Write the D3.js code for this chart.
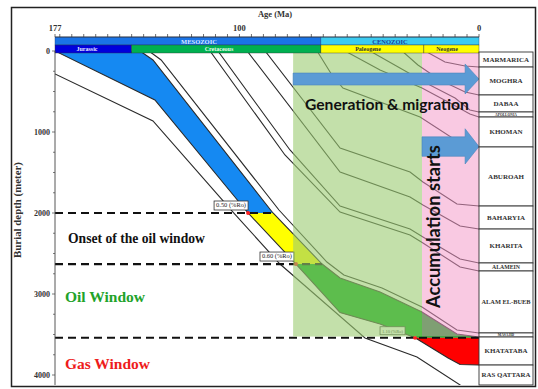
<!DOCTYPE html>
<html><head><meta charset="utf-8">
<script src="https://cdn.jsdelivr.net/npm/d3@7"></script>
<style>body{margin:0;background:#fff}svg{display:block}</style>
</head><body>
<svg id="chart" width="538" height="389"></svg>
<script>
// ---- stratigraphic column (present-day formation tops, metres) ----
const formations = ["MARMARICA","MOGHRA","DABAA","APOLLONIA","KHOMAN","ABUROAH","BAHARYIA","KHARITA","ALAMEIN","ALAM EL-BUEB","MASAJID","KHATATABA","RAS QATTARA"];
const formationTops = [0,198,543,753,815,1185,1914,2198,2617,2716,3481,3531,3877];
const columnBase = 4123;

// ---- geologic time scale (Ma) ----
const eras = ["MESOZOIC","CENOZOIC"];
const eraSpans = [[177,66],[66,0]];
const periods = ["Jurassic","Cretaceous","Paleogene","Neogene"];
const periodSpans = [[177,145],[145,66],[66,23],[23,0]];
const ageLabels = [177,100,0];
const depthLabels = [0,1000,2000,3000,4000];

// ---- burial history of each horizon: [age Ma, depth m] ----
const rasQattaraBase = [[177,284],[136.1,864],[102.7,1988],[83.1,2630],[47.6,3543],[25.9,3778],[7.9,4123],[0,4247]];
const khatatbaBase   = [[177,0],[135.3,605],[96.4,2000],[76.4,2630],[58.0,3230],[41.3,3370],[26.7,3540],[12.9,3790],[7.9,3870],[0,3877]];
const khatatbaTop    = [[141.5,0],[136.1,111],[86.0,2000],[65.5,2630],[58.0,2802],[41.3,2975],[23.8,3222],[9.2,3494],[0,3531]];
const masajidTop     = [[137.8,0],[132.7,111],[83.5,1963],[63.5,2605],[56.4,2765],[40.5,2926],[23.8,3160],[9.2,3444],[0,3481]];
const alamElBueibTop = [[112.3,0],[81.0,1284],[58.0,1988],[28.8,2272],[23.4,2370],[7.9,2667],[0,2716]];
const alameinTop     = [[109.0,0],[78.9,1222],[58.0,1914],[28.8,2198],[23.4,2296],[7.9,2568],[0,2617]];
const kharitaTop     = [[96.8,0],[58.0,1494],[28.8,1802],[23.4,1901],[7.9,2160],[0,2198]];
const baharyiaTop    = [[89.3,0],[58.0,1198],[28.8,1494],[23.4,1617],[9.2,1889],[0,1914]];
const aburoahTop     = [[67.6,0],[61.4,296],[56.8,457],[24.6,815],[7.9,1136],[0,1185]];
const khomanTop      = [[55.9,0],[41.3,235],[23.8,457],[12.1,642],[3.8,778],[0,815]];
const apolloniaTop   = [[45.5,0],[33.0,210],[20.5,420],[10.0,580],[3.8,728],[0,753]];
const dabaaTop       = [[32.1,0],[25.5,173],[16.3,358],[5.8,506],[0,543]];
const moghraTop      = [[22.5,0],[14.2,136],[5.8,185],[0,198]];

// ---- maturity thresholds (vitrinite reflectance) ----
const roLabels = ["0.50 (%Ro)","0.60 (%Ro)","1.10 (%Ro)"];
const roDepths = [2000,2630,3540];

// ---- interpretation windows (Ma) ----
const generationSpan = [77.6,23.8];
const accumulationSpan = [23.8,0];

const svg = d3.select("#chart");
const x = d3.scaleLinear().domain([177,0]).range([55,479]);
const y = d3.scaleLinear().domain([0,4000]).range([51,375]);
const yBottom = y(columnBase);
const serif = "'Liberation Serif','Times New Roman',serif";
const sans = "Lato,'Open Sans',sans-serif";

function fit(t, w){
  const L = t.node().getComputedTextLength();
  t.attr("font-size", parseFloat(t.attr("font-size")) * w / L);
  return t;
}
const line = d3.line().x(d=>x(d[0])).y(d=>y(d[1]));

// age at which a horizon reaches a given depth
function ageAtDepth(h, dep){
  for(let i=0;i<h.length-1;i++){
    const a=h[i], b=h[i+1];
    if((a[1]-dep)*(b[1]-dep)<=0 && a[1]!==b[1]){
      const t=(dep-a[1])/(b[1]-a[1]);
      return a[0]+t*(b[0]-a[0]);
    }
  }
  return null;
}

svg.append("rect").attr("width",538).attr("height",389).attr("fill","#fff");
const defs = svg.append("defs");
defs.append("clipPath").attr("id","plot").append("rect")
  .attr("x",x(177)).attr("y",y(0)).attr("width",x(0)-x(177)).attr("height",yBottom-y(0));

// ---- source-rock layer coloured by maturity ----
const layer = khatatbaBase.concat(khatatbaTop.slice().reverse());
const zones = [[0,2000,"#1589f2"],[2000,2630,"#ffff00"],[2630,3540,"#00a818"],[3540,5000,"#ff0000"]];
zones.forEach((z,i)=>{
  defs.append("clipPath").attr("id","zone"+i).append("rect")
    .attr("x",0).attr("width",538).attr("y",y(z[0])).attr("height",y(z[1])-y(z[0]));
  svg.append("path").attr("d",line(layer)+"Z").attr("fill",z[2])
    .attr("clip-path","url(#zone"+i+")");
});

// ---- horizon burial curves ----
const horizons = [rasQattaraBase,khatatbaBase,khatatbaTop,masajidTop,alamElBueibTop,alameinTop,
  kharitaTop,baharyiaTop,aburoahTop,khomanTop,apolloniaTop,dabaaTop,moghraTop];
const hg = svg.append("g").attr("clip-path","url(#plot)");
horizons.forEach(h=>hg.append("path").attr("d",line(h)).attr("fill","none")
  .attr("stroke","#2a2a2a").attr("stroke-width",1.1));

// ---- maturity threshold lines, points and labels ----
const labelShift = [0,2,10];
roDepths.forEach((dep,i)=>{
  const endAge = ageAtDepth(khatatbaTop, dep);
  const xe = endAge===null ? x(0) : x(endAge);
  svg.append("line").attr("x1",x(177)).attr("x2",xe).attr("y1",y(dep)).attr("y2",y(dep))
    .attr("stroke","#111").attr("stroke-width",2.2).attr("stroke-dasharray","8,5");
  const xd = x(ageAtDepth(khatatbaBase, dep));
  svg.append("circle").attr("cx",xd).attr("cy",y(dep)).attr("r",2).attr("fill","#ff2020");
  const bw = i===2 ? 25 : 34, bh = i===2 ? 8 : 9;
  const bx = xd - labelShift[i] - bw, by = y(dep) - 3 - bh;
  svg.append("rect").attr("x",bx).attr("y",by).attr("width",bw).attr("height",bh)
    .attr("fill","#fff").attr("stroke","#333").attr("stroke-width",0.8);
  const t = svg.append("text").attr("x",bx+bw/2).attr("y",by+bh/2+1.8).attr("text-anchor","middle")
    .attr("font-family",serif).attr("font-size",5.5).attr("fill","#222").text(roLabels[i]);
  fit(t, bw-4);
});

// ---- generation and accumulation windows ----
svg.append("rect").attr("x",x(generationSpan[0])).attr("width",x(generationSpan[1])-x(generationSpan[0]))
  .attr("y",y(0)).attr("height",y(3525)-y(0)).attr("fill","#9bcc72").attr("fill-opacity",0.6);
svg.append("rect").attr("x",x(accumulationSpan[0])).attr("width",x(accumulationSpan[1])-x(accumulationSpan[0]))
  .attr("y",y(0)).attr("height",y(3525)-y(0)).attr("fill","#f497c7").attr("fill-opacity",0.52);

// ---- arrows ----
function arrow(a0, a1, headAge, bTop, bBot, hTop, hBot){
  const mid = (bTop+bBot)/2;
  const pts = [[a0,bTop],[headAge,bTop],[headAge,hTop],[a1,mid],[headAge,hBot],[headAge,bBot],[a0,bBot]];
  svg.append("path").attr("d",d3.line().x(d=>x(d[0])).y(d=>y(d[1]))(pts)+"Z")
    .attr("fill","#5b9bd5").attr("stroke","#4a84bb").attr("stroke-width",0.6);
}
arrow(generationSpan[0],0,5.8,272,420,160,531);
arrow(accumulationSpan[0],0,5.8,1060,1300,960,1395);

const gm = svg.append("text").attr("x",305).attr("y",110).attr("font-family",sans)
  .attr("font-weight",700).attr("font-size",15).attr("fill","#111").text("Generation & migration");
fit(gm,164);
const acc = svg.append("text").attr("transform","translate(440,308) rotate(-90)")
  .attr("font-family",sans).attr("font-weight",700).attr("font-size",15).attr("fill","#111")
  .text("Accumulation starts");
fit(acc,163);

// ---- window labels ----
fit(svg.append("text").attr("x",68).attr("y",243).attr("font-family",serif).attr("font-weight",700)
  .attr("font-size",13).attr("fill","#111").text("Onset of the oil window"),137);
fit(svg.append("text").attr("x",65).attr("y",302).attr("font-family",serif).attr("font-weight",700)
  .attr("font-size",15).attr("fill","#22a32a").text("Oil Window"),80);
fit(svg.append("text").attr("x",65).attr("y",369).attr("font-family",serif).attr("font-weight",700)
  .attr("font-size",15).attr("fill","#ee1c1c").text("Gas Window"),85);

// ---- time-scale bars ----
const eraFill = ["#1a74e6","#3ccbf0"], eraText = ["#d8e6ff","#1b3a9c"];
eraSpans.forEach((s,i)=>{
  svg.append("rect").attr("x",x(s[0])).attr("width",x(s[1])-x(s[0])).attr("y",37).attr("height",8)
    .attr("fill",eraFill[i]).attr("stroke","#1d3f80").attr("stroke-width",0.4);
});
const eraTextX = [199,390];
eras.forEach((e,i)=>svg.append("text").attr("x",eraTextX[i]).attr("y",43.6).attr("text-anchor","middle")
  .attr("font-family",serif).attr("font-weight",700).attr("font-size",6.5).attr("fill",eraText[i]).text(e));
const perFill = ["#0000dc","#00b050","#ffff00","#ffff00"], perText = ["#e8ecff","#eaffea","#333","#333"];
periodSpans.forEach((s,i)=>{
  svg.append("rect").attr("x",x(s[0])).attr("width",x(s[1])-x(s[0])).attr("y",45).attr("height",8)
    .attr("fill",perFill[i]).attr("stroke","#333").attr("stroke-width",0.4);
});
const perTextX = [87,219,368,447];
periods.forEach((p,i)=>svg.append("text").attr("x",perTextX[i]).attr("y",51.4).attr("text-anchor","middle")
  .attr("font-family",serif).attr("font-weight",700).attr("font-size",6).attr("fill",perText[i]).text(p));

// ---- axes ----
const ax = svg.append("g").attr("font-family",serif);
ax.append("line").attr("x1",x(177)).attr("x2",x(0)).attr("y1",37).attr("y2",37).attr("stroke","#333").attr("stroke-width",0.8);
d3.range(175,-1,-5).concat([177]).forEach(a=>ax.append("line").attr("x1",x(a)).attr("x2",x(a))
  .attr("y1",37).attr("y2",34).attr("stroke","#333").attr("stroke-width",0.7));
ageLabels.forEach(a=>ax.append("text").attr("x",x(a)).attr("y",31).attr("text-anchor","middle")
  .attr("font-weight",700).attr("font-size",8.5).attr("fill","#333").text(a));
ax.append("text").attr("x",275).attr("y",17).attr("text-anchor","middle").attr("font-weight",700)
  .attr("font-size",8.5).attr("fill","#333").text("Age (Ma)");

ax.append("line").attr("x1",x(177)).attr("x2",x(177)).attr("y1",y(0)).attr("y2",yBottom).attr("stroke","#444").attr("stroke-width",0.9);
d3.range(0,4001,250).forEach(d=>ax.append("line").attr("x1",x(177)).attr("x2",x(177)-(d%1000===0?3:2))
  .attr("y1",y(d)).attr("y2",y(d)).attr("stroke","#444").attr("stroke-width",0.7));
depthLabels.forEach(d=>ax.append("text").attr("x",50).attr("y",y(d)+3).attr("text-anchor","end")
  .attr("font-weight",700).attr("font-size",8).attr("fill","#333").text(d));
fit(ax.append("text").attr("transform","translate(21,210) rotate(-90)").attr("text-anchor","middle")
  .attr("font-weight",700).attr("font-size",8).attr("fill","#333").text("Burial depth (meter)"),96);

// ---- formation column ----
const tx0 = x(0), tx1 = 533;
const col = svg.append("g");
formations.forEach((f,i)=>{
  const t0 = y(formationTops[i]) + (i===0?1:0);
  const t1 = i<formations.length-1 ? y(formationTops[i+1]) : yBottom;
  col.append("rect").attr("x",tx0).attr("y",t0).attr("width",tx1-tx0).attr("height",t1-t0)
    .attr("fill","#fff").attr("stroke","#333").attr("stroke-width",0.9);
  const hgt = t1-t0;
  const fs = hgt<6 ? 3.6 : (hgt<9 ? 5.8 : 7);
  const t = col.append("text").attr("x",(tx0+tx1)/2).attr("y",(t0+t1)/2+fs*0.35).attr("text-anchor","middle")
    .attr("font-family",serif).attr("font-weight",700).attr("font-size",fs).attr("fill","#333").text(f);
  if(t.node().getComputedTextLength()>49) fit(t,49);
});

// ---- frame ----
svg.append("rect").attr("x",11.5).attr("y",7.5).attr("width",524).attr("height",379)
  .attr("fill","none").attr("stroke","#222").attr("stroke-width",1.5);
</script>
</body></html>
